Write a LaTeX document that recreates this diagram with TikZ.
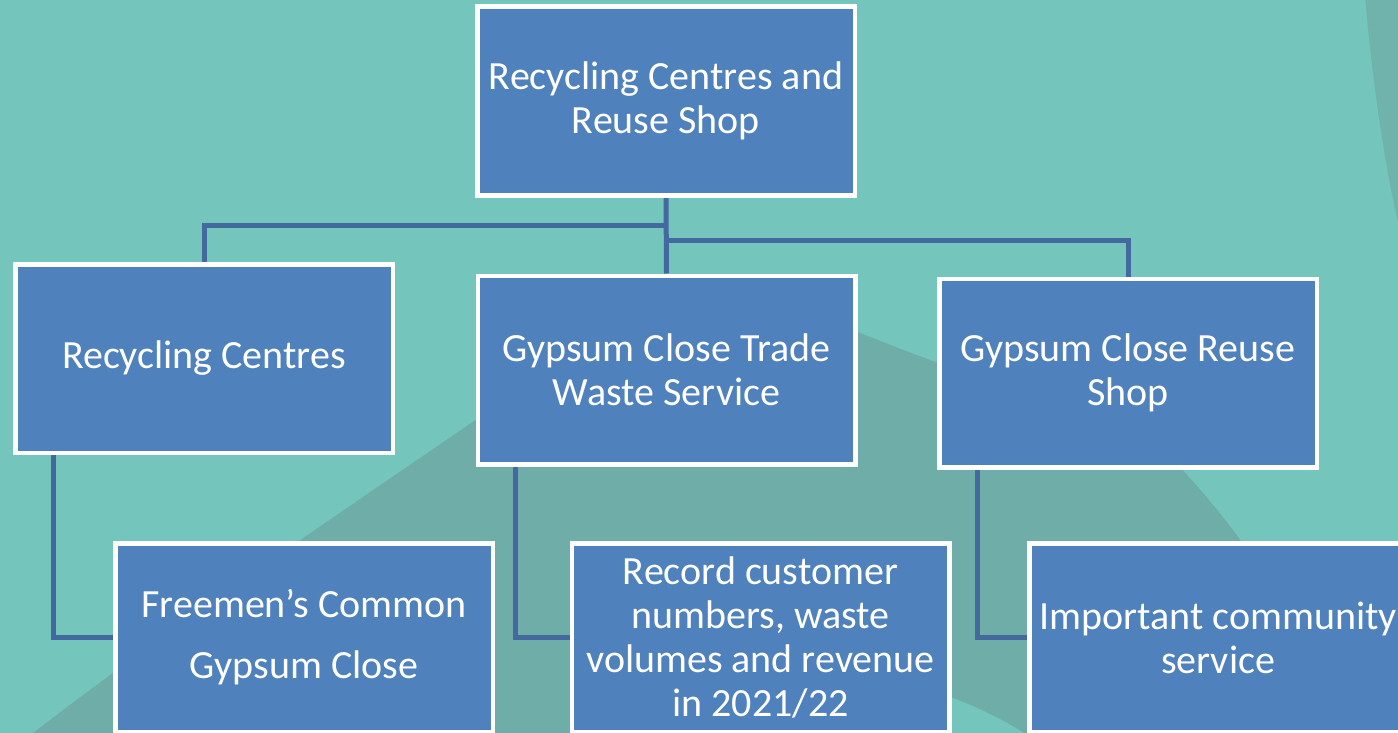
\documentclass[tikz,border=0pt]{standalone}
\usepackage{fontspec}
\setmainfont{Carlito}
\definecolor{bgteal}{HTML}{74C6BD}
\definecolor{darkteal}{HTML}{6FADA8}
\definecolor{bandteal}{HTML}{70B2AC}
\definecolor{boxblue}{HTML}{4F81BD}
\definecolor{linkblue}{HTML}{43699F}
\pgfdeclarelayer{back}
\pgfdeclarelayer{links}
\pgfsetlayers{back,links,main}
\tikzset{
  orgbox/.style={draw=white, line width=4.5pt, fill=boxblue, text=white,
    minimum width=377.5pt, minimum height=188.5pt, inner sep=0pt, align=center,
    font=\fontsize{40}{44}\selectfont},
  link/.style={draw=linkblue, line width=5pt}
}
\begin{document}
\begin{tikzpicture}[x=1pt,y=-1pt]
\useasboundingbox (0,0) rectangle (1398,733);
\begin{pgfonlayer}{back}
  \fill[bgteal] (0,0) rectangle (1398,733);
  \fill[darkteal] (-20,775) -- (33,733) .. controls (180,620) and (330,520) .. (474,421)
     .. controls (640,320) and (768,290) .. (858,332)
     .. controls (1000,390) and (1120,420) .. (1173,460)
     .. controls (1270,560) and (1330,680) .. (1360,780) -- cycle;
  \fill[bgteal] (800,1100) circle[radius=430];
  \fill[bandteal] (1365,-5) .. controls (1372,80) and (1385,170) .. (1402,240) -- (1402,-5) -- cycle;
\end{pgfonlayer}

\node[orgbox] (top) at (666,101) {Recycling Centres and\\Reuse Shop};
\node[orgbox] (rc) at (204,358.5) {Recycling Centres};
\node[orgbox] (gt) at (666.5,370) {Gypsum Close Trade\\Waste Service};
\node[orgbox] (rs) at (1128,373) {Gypsum Close Reuse\\Shop};
\node[orgbox, font=\fontsize{40}{61}\selectfont] (fc) at (304,637.5) {Freemen’s Common\\Gypsum Close};
\node[orgbox] (rr) at (760.5,637.5) {Record customer\\numbers, waste\\volumes and revenue\\in 2021/22};
\node[orgbox] (ic) at (1218,637.5) {Important community\\service};

\coordinate (j1) at (666,225);
\coordinate (j2) at (666,240);
\begin{pgfonlayer}{links}
  \draw[link] (top.south) -- (gt.north);
  \draw[link] (j1) -| (rc.north);
  \draw[link] (j2) -| (rs.north);
  \draw[link] ([xshift=-151pt]rc.south) |- (fc.west);
  \draw[link] ([xshift=-151pt]gt.south) |- (rr.west);
  \draw[link] ([xshift=-150.5pt]rs.south) |- (ic.west);
\end{pgfonlayer}
\end{tikzpicture}
\end{document}
